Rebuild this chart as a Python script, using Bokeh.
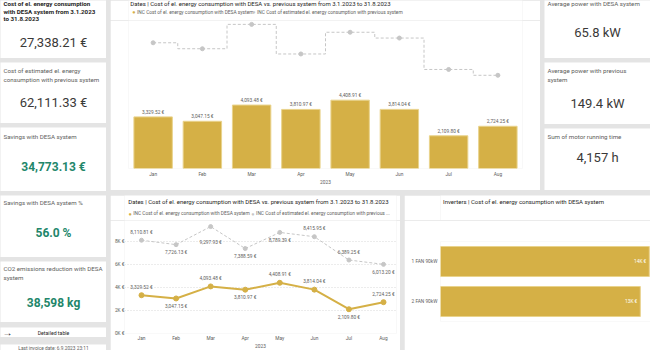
from bokeh.plotting import figure
from bokeh.models import Range1d, FactorRange, Label, LabelSet, FixedTicker, ColumnDataSource
from bokeh.layouts import row, column
from bokeh.embed import file_html
from bokeh.resources import INLINE
from bokeh.core.properties import value

# ---------------- data ----------------
months = ["Jan", "Feb", "Mar", "Apr", "May", "Jun", "Jul", "Aug"]
desa_cost = [3329.52, 3047.15, 4093.48, 3810.97, 4408.91, 3814.04, 2109.80, 2724.25]
prev_cost = [8110.81, 7726.13, 9297.93, 7388.59, 8789.39, 8415.95, 6389.25, 6013.20]
year_label = "2023"
inverters = ["1 FAN 90kW", "2 FAN 90kW"]
inverter_cost = [13970, 13368]
y_ticks = [0, 2000, 4000, 6000, 8000]
y_tick_labels = ["0K €", "2K €", "4K €", "6K €", "8K €"]

left_titles = [
    ["Cost of el. energy consumption", "with DESA system from 3.1.2023", "to 31.8.2023"],
    ["Cost of estimated el. energy", "consumption with previous system"],
    ["Savings with DESA system"],
    ["Savings with DESA system %"],
    ["CO2 emissions reduction with DESA", "system"],
]
left_values = ["27,338.21 €", "62,111.33 €", "34,773.13 €", "56.0 %", "38,598 kg"]
right_titles = [
    ["Average power with DESA system"],
    ["Average power with previous", "system"],
    ["Sum of motor running time"],
]
right_values = ["65.8 kW", "149.4 kW", "4,157 h"]
chart_title = "Dates | Cost of el. energy consumption with DESA vs. previous system from 3.1.2023 to 31.8.2023"
legend_desa = "INC Cost of el. energy consumption with DESA system"
legend_prev = "INC Cost of estimated el. energy consumption with previous system"
legend_prev_short = "INC Cost of estimated el. energy consumption with previous ..."
inv_title = "Inverters | Cost of el. energy consumption with DESA system"
button_text = "Detailed table"
last_text = "Last invoice date: 6.9.2023 23:11"

# ---------------- styles ----------------
GOLD = "#D5B046"
GREY_LINE = "#C6C6C6"
DARK = "#252423"
VAL = "#3A3938"
MID = "#605E5C"
GREEN = "#22866A"
BG = "#E4E4E4"
FONT = "Roboto"
TITLE_PX = 6.0
LEG_PX = 4.85
SMALL_PX = "4.8px"
LABEL_PX = 6.2

left_heights = [58, 61, 64, 62, 61]
left_title_y = [[3.4, 11.0, 18.6], [8, 17], [9], [7], [7, 16]]
left_value_y = [42, 40, 39, 37, 41]
right_heights = [58, 62, 62]
right_title_y = [[3.4], [8, 17], [8]]
right_value_y = [32, 41, 29]
desa_label_dy = [-8, 8, -8, 8, -8, -8, 8, -8]
prev_label_dy = [-8, 8, 16, 8, 8, -8, -8, 8]


def blank(w, h):
    p = figure(width=w, height=h, x_range=Range1d(0, w), y_range=Range1d(h, 0),
               x_axis_location=None, y_axis_location=None, toolbar_location=None,
               output_backend="svg", min_border=0, title=None)
    p.outline_line_color = None
    p.grid.visible = False
    p.background_fill_color = "white"
    p.border_fill_color = "white"
    return p


def txt(p, x, y, text, size, color, align="left", bold=False):
    p.add_layout(Label(x=x, y=y, text=text, text_font=FONT, text_font_size=f"{size}px",
                       text_color=color, text_align=align, text_baseline="middle",
                       text_font_style="bold" if bold else "normal"))


def card(w, h, lines, ys, val, vy, title_bold=False, val_color=VAL, val_bold=False,
         title_color=MID, val_size=13):
    p = blank(w, h)
    for line, y in zip(lines, ys):
        txt(p, 3, y, line, LABEL_PX, title_color, bold=title_bold)
    txt(p, w / 2, vy, val, val_size, val_color, align="center", bold=val_bold)
    return p


# ---------------- left column ----------------
left_cards = []
for i in range(5):
    if i == 0:
        c = card(106, left_heights[i], left_titles[i], left_title_y[i], left_values[i], left_value_y[i],
                 title_bold=True, title_color=DARK)
    elif i == 1:
        c = card(106, left_heights[i], left_titles[i], left_title_y[i], left_values[i], left_value_y[i])
    else:
        c = card(106, left_heights[i], left_titles[i], left_title_y[i], left_values[i], left_value_y[i],
                 val_color=GREEN, val_bold=True, val_size=12)
    left_cards.append(c)

btn = blank(106, 11)
txt(btn, 7, 5.2, "→", 10, DARK, align="center", bold=True)
txt(btn, 53, 5.6, button_text, 5.2, DARK, align="center")
last = blank(106, 9)
txt(last, 53, 4.0, last_text, 4.8, MID, align="center")
left_col = column(*left_cards, btn, last, spacing=4)

# ---------------- right column ----------------
right_cards = [card(106, right_heights[i], right_titles[i], right_title_y[i], right_values[i], right_value_y[i])
               for i in range(3)]
right_col = column(*right_cards, spacing=4)


def legend(p, y, second):
    txt(p, 6, y, "●", 5.5, GOLD, align="center")
    txt(p, 9.3, y, legend_desa, LEG_PX, MID)
    txt(p, 137, y, "●", 5.5, GREY_LINE, align="center")
    txt(p, 140.3, y, second, LEG_PX, MID)


def style_axis(a, standoff):
    a.axis_line_color = None
    a.major_tick_line_color = None
    a.minor_tick_line_color = None
    a.major_tick_out = 0
    a.major_tick_in = 0
    a.minor_tick_out = 0
    a.minor_tick_in = 0
    a.major_label_standoff = standoff
    a.major_label_text_font = FONT
    a.major_label_text_font_size = SMALL_PX
    a.major_label_text_color = MID


def year_axis(a):
    a.axis_label = year_label
    a.axis_label_standoff = 0
    a.axis_label_text_font = FONT
    a.axis_label_text_font_size = SMALL_PX
    a.axis_label_text_font_style = "normal"
    a.axis_label_text_color = MID


# ---------------- top panel ----------------
top_header = blank(430, 20)
txt(top_header, 2, 3.3, chart_title, TITLE_PX, DARK)
legend(top_header, 11.5, legend_prev)

top = figure(width=430, height=170, x_range=FactorRange(*months), y_range=Range1d(0, 9548),
             y_axis_location=None, toolbar_location=None, output_backend="svg", title=None,
             min_border_left=18, min_border_right=18, min_border_top=0, min_border_bottom=22)
top.outline_line_color = None
top.grid.visible = False
top.vbar(x=months, top=desa_cost, width=0.78, fill_color=GOLD, line_color="#E9D38C", line_width=1)
top.step(x=months, y=prev_cost, mode="center", line_color=GREY_LINE, line_width=1, line_dash="3 2")
top.scatter(x=months, y=prev_cost, size=4, color=GREY_LINE)
top.text(x=months, y=desa_cost, text=[f"{v:,.2f} €" for v in desa_cost], text_align="center",
         text_baseline="bottom", y_offset=-2, text_font=value(FONT), text_font_size=SMALL_PX, text_color=MID)
ax = top.xaxis[0]
style_axis(ax, 3)
year_axis(ax)
top_panel = column(top_header, top)

# ---------------- bottom middle panel ----------------
bm_header = blank(290, 25)
txt(bm_header, 4, 6, chart_title, TITLE_PX, DARK)
legend(bm_header, 18, legend_prev_short)

xs = list(range(len(months)))
bm = figure(width=290, height=130, x_range=Range1d(-0.492, 7.376), y_range=Range1d(0, 9826),
            toolbar_location=None, output_backend="svg", title=None,
            min_border_left=14, min_border_right=4, min_border_top=0, min_border_bottom=17)
bm.outline_line_color = None
bm.xgrid.visible = False
bm.ygrid.ticker = FixedTicker(ticks=y_ticks)
bm.ygrid.grid_line_color = "#D9D9D9"
bm.ygrid.grid_line_dash = "1 2"
src_d = ColumnDataSource(dict(x=xs, y=desa_cost, t=[f"{v:,.2f} €" for v in desa_cost],
                              dy=[-d for d in desa_label_dy]))
src_p = ColumnDataSource(dict(x=xs, y=prev_cost, t=[f"{v:,.2f} €" for v in prev_cost],
                              dy=[-d for d in prev_label_dy]))
bm.line("x", "y", source=src_p, line_color=GREY_LINE, line_width=1, line_dash="3 2")
bm.scatter("x", "y", source=src_p, size=4, color=GREY_LINE)
bm.line("x", "y", source=src_d, line_color=GOLD, line_width=2)
bm.scatter("x", "y", source=src_d, size=5, color=GOLD)
for s in (src_d, src_p):
    bm.add_layout(LabelSet(x="x", y="y", text="t", y_offset="dy", source=s, text_align="center",
                           text_baseline="middle", text_font=value(FONT), text_font_size=SMALL_PX,
                           text_color=MID))
xa = bm.xaxis[0]
xa.ticker = FixedTicker(ticks=xs)
xa.major_label_overrides = {i: m for i, m in zip(xs, months)}
style_axis(xa, 2)
year_axis(xa)
ya = bm.yaxis[0]
ya.ticker = FixedTicker(ticks=y_ticks)
ya.major_label_overrides = {t: l for t, l in zip(y_ticks, y_tick_labels)}
style_axis(ya, 0)
bm_panel = column(bm_header, bm)

# ---------------- inverter panel ----------------
inv_header = blank(246, 25)
txt(inv_header, 3, 6, inv_title, TITLE_PX, DARK)
inv = figure(width=246, height=130, x_range=Range1d(0, 14050), y_range=FactorRange(*reversed(inverters)),
             x_axis_location=None, toolbar_location=None, output_backend="svg", title=None,
             min_border_left=36, min_border_right=0, min_border_top=21, min_border_bottom=29)
inv.outline_line_color = None
inv.grid.visible = False
inv.hbar(y=inverters, right=inverter_cost, height=0.75, fill_color=GOLD, line_color="#E9D38C", line_width=1)
inv.text(x=inverter_cost, y=inverters, text=[f"{v / 1000:.0f}K €" for v in inverter_cost], x_offset=-3,
         text_align="right", text_baseline="middle", text_font=value(FONT), text_font_size=SMALL_PX,
         text_color="white")
style_axis(inv.yaxis[0], 3)
inv_panel = column(inv_header, inv)

# ---------------- layout ----------------
top_row = row(top_panel, right_col, spacing=4)
bottom_row = row(bm_panel, inv_panel, spacing=4)
mid = column(top_row, bottom_row, spacing=5)
root = row(left_col, mid, spacing=4, styles={"background-color": BG})

open("out.html", "w").write(file_html(root, INLINE))
